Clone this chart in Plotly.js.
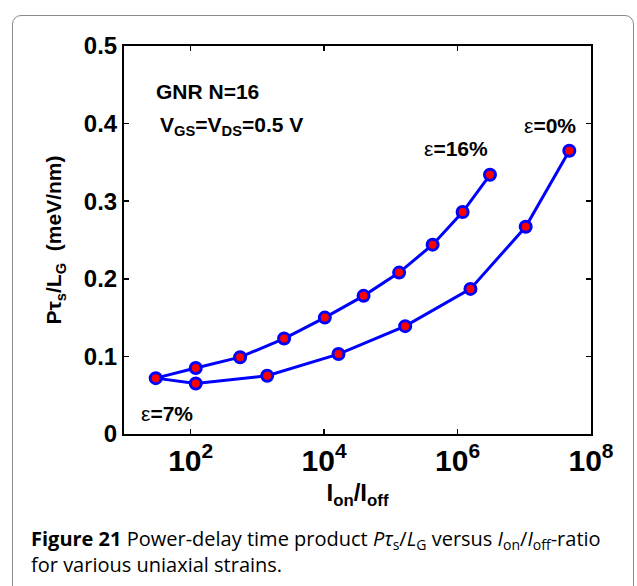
<!DOCTYPE html>
<html>
<head>
<meta charset="utf-8">
<script src="https://cdn.plot.ly/plotly-3.0.1.min.js"></script>
<style>
  html, body { margin: 0; padding: 0; background: #fff; }
  #wrap { position: relative; width: 637px; height: 586px; overflow: hidden; }
  #frame { position: absolute; left: 12px; top: 15px; width: 622px; height: 600px;
           border: 1.5px solid #8a8a8a; border-radius: 9px; box-sizing: border-box; }
  #chart { position: absolute; left: 0; top: 0; width: 637px; height: 586px; }
</style>
</head>
<body>
<div id="wrap">
  <div id="frame"></div>
  <div id="chart"></div>
</div>
<script>
// Uniaxial strain (%) for each point, from 0% to 16%
const strainPct = [0, 1, 2, 3, 4, 5, 6, 7, 8, 9, 10, 11, 12, 13, 14, 15, 16];
// Ion/Ioff ratio
const ionIoff = [4.73e7, 1.05e7, 1.56e6, 1.64e5, 1.64e4, 1400, 119, 29.9,
                 119, 550, 2510, 10230, 39000, 1.33e5, 4.23e5, 1.19e6, 3.06e6];
// Power-delay product P*tau_s/L_G (meV/nm)
const pTauOverLG = [0.365, 0.267, 0.187, 0.139, 0.103, 0.075, 0.065, 0.072,
                    0.085, 0.099, 0.123, 0.150, 0.178, 0.208, 0.244, 0.286, 0.334];

const yTicks = [0, 0.1, 0.2, 0.3, 0.4, 0.5];
const yTickText = ['0', '0.1', '0.2', '0.3', '0.4', '0.5'];

const labelFont = {family: 'Liberation Sans, Arial, sans-serif', size: 21, color: '#000'};

const trace = {
  x: ionIoff,
  y: pTauOverLG,
  text: strainPct.map(s => 'ε=' + s + '%'),
  mode: 'lines+markers',
  type: 'scatter',
  line: {color: '#0000ff', width: 3},
  marker: {color: '#ff0000', size: 11, line: {color: '#0000ff', width: 3}},
  hoverinfo: 'x+y+text'
};

const layout = {
  width: 637, height: 586,
  margin: {l: 124, r: 46, t: 46, b: 152},
  paper_bgcolor: 'rgba(0,0,0,0)',
  plot_bgcolor: '#fff',
  showlegend: false,
  font: {family: 'Liberation Sans, Arial, sans-serif', color: '#000'},
  xaxis: {
    type: 'log', range: [1, 8], dtick: 2, tick0: 0,
    exponentformat: 'power',
    showgrid: false, zeroline: false,
    showline: true, linecolor: '#000', linewidth: 2, mirror: 'allticks',
    ticks: 'inside', ticklen: 5, tickwidth: 1.5, tickcolor: '#000',
    tickfont: {family: 'Liberation Sans, Arial, sans-serif', size: 24, color: '#000', weight: 'bold'},
    title: {text: '<b>I<sub>on</sub>/I<sub>off</sub></b>', standoff: 8,
            font: {family: 'Liberation Sans, Arial, sans-serif', size: 24, color: '#000'}}
  },
  yaxis: {
    range: [0, 0.5], tickvals: yTicks, ticktext: yTickText,
    showgrid: false, zeroline: false,
    showline: true, linecolor: '#000', linewidth: 2, mirror: 'allticks',
    ticks: 'inside', ticklen: 5, tickwidth: 1.5, tickcolor: '#000',
    tickfont: {family: 'Liberation Sans, Arial, sans-serif', size: 24, color: '#000', weight: 'bold'},
    title: {text: '<b>Pτ<sub>s</sub>/L<sub>G</sub>  (meV/nm)</b>', standoff: 16,
            font: {family: 'Liberation Sans, Arial, sans-serif', size: 21, color: '#000'}}
  },
  annotations: [
    {xref: 'paper', yref: 'paper', x: 0.065, y: 0.882, xanchor: 'left', yanchor: 'middle',
     text: '<b>GNR N=16</b>', showarrow: false, font: labelFont},
    {xref: 'paper', yref: 'paper', x: 0.072, y: 0.793, xanchor: 'left', yanchor: 'middle',
     text: '<b>V<sub>GS</sub>=V<sub>DS</sub>=0.5 V</b>', showarrow: false, font: labelFont},
    {xref: 'paper', yref: 'paper', x: 0.639, y: 0.737, xanchor: 'left', yanchor: 'middle',
     text: 'ε<b>=16%</b>', showarrow: false, font: labelFont},
    {xref: 'paper', yref: 'paper', x: 0.853, y: 0.796, xanchor: 'left', yanchor: 'middle',
     text: 'ε<b>=0%</b>', showarrow: false, font: labelFont},
    {xref: 'paper', yref: 'paper', x: 0.033, y: 0.053, xanchor: 'left', yanchor: 'middle',
     text: 'ε<b>=7%</b>', showarrow: false, font: labelFont},
    {xref: 'paper', yref: 'paper', x: -0.2034, y: -0.23, xanchor: 'left', yanchor: 'top',
     align: 'left',
     text: '<b>Figure 21</b> Power-delay time product <i>Pτ</i><sub>s</sub>/<i>L</i><sub>G</sub> versus <i>I</i><sub>on</sub>/<i>I</i><sub>off</sub>-ratio<br>for various uniaxial strains.',
     showarrow: false,
     font: {family: 'Open Sans, Noto Sans, sans-serif', size: 20, color: '#000'}}
  ]
};

Plotly.newPlot('chart', [trace], layout, {staticPlot: true, displayModeBar: false});
</script>
</body>
</html>
